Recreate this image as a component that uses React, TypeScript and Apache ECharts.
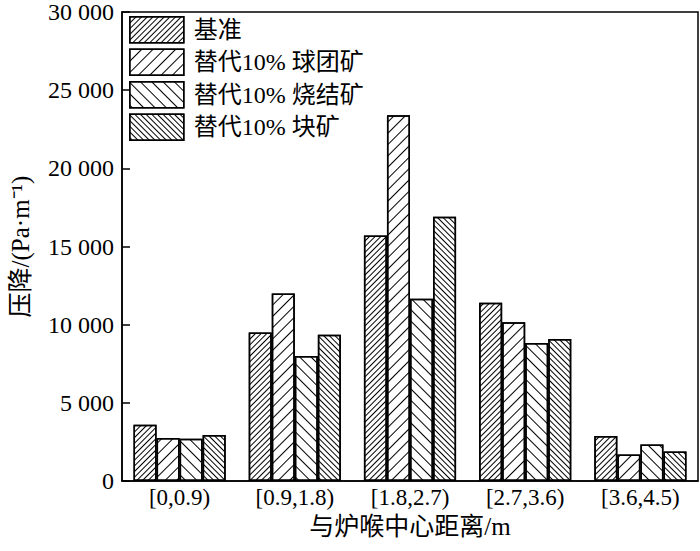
import React, { useEffect, useRef } from "react";
import * as echarts from "echarts";

const categories = ["[0,0.9)", "[0.9,1.8)", "[1.8,2.7)", "[2.7,3.6)", "[3.6,4.5)"];
const seriesNames = ["基准", "替代10% 球团矿", "替代10% 烧结矿", "替代10% 块矿"];
const baseline = [3600, 9500, 15700, 11400, 2880];
const pellet = [2750, 12000, 23400, 10150, 1700];
const sinter = [2700, 8000, 11650, 8830, 2340];
const lump = [2950, 9350, 16900, 9080, 1890];
const yTicks = [0, 5000, 10000, 15000, 20000, 25000, 30000];

const FONT = "'Liberation Serif', 'Times New Roman', 'Noto Sans CJK SC', serif";

function fmt(v: number): string {
  if (v < 1000) return String(v);
  return `${Math.floor(v / 1000)} ${String(v % 1000).padStart(3, "0")}`;
}

export default function App() {
  const ref = useRef<HTMLDivElement>(null);
  useEffect(() => {
    if (!ref.current) return;
    const chart = echarts.init(ref.current, null, { renderer: "svg" });
    const decals = [
      { rotation: -Math.PI / 4, gap: 3 },
      { rotation: -Math.PI / 4, gap: 7 },
      { rotation: Math.PI / 4, gap: 7 },
      { rotation: Math.PI / 4, gap: 3 },
    ];
    const data = [baseline, pellet, sinter, lump];
    chart.setOption({
      animation: false,
      backgroundColor: "#fff",
      textStyle: { fontFamily: FONT, color: "#000" },
      grid: {
        left: 114,
        right: 2,
        top: 10,
        bottom: 70,
        show: true,
        borderColor: "#000",
        borderWidth: 1.5,
      },
      legend: {
        orient: "vertical",
        left: 124,
        top: 11,
        icon: "rect",
        itemWidth: 54,
        itemHeight: 26,
        itemGap: 5,
        data: seriesNames,
        itemStyle: { borderColor: "#000", borderWidth: 1.5 },
        textStyle: { fontFamily: FONT, fontSize: 24, color: "#000", padding: [0, 0, 0, 5] },
      },
      xAxis: {
        type: "category",
        data: categories,
        name: "与炉喉中心距离/m",
        nameLocation: "middle",
        nameGap: 27,
        nameTextStyle: { fontFamily: FONT, fontSize: 25, color: "#000" },
        axisLine: { lineStyle: { color: "#000", width: 1.5 } },
        axisTick: { show: false },
        axisLabel: { fontFamily: FONT, fontSize: 23, color: "#000", margin: 5 },
      },
      yAxis: {
        type: "value",
        min: yTicks[0],
        max: yTicks[yTicks.length - 1],
        interval: 5000,
        name: "压降/(Pa·m⁻¹)",
        nameLocation: "middle",
        nameGap: 89,
        nameTextStyle: { fontFamily: FONT, fontSize: 25, color: "#000" },
        axisLine: { show: true, lineStyle: { color: "#000", width: 1.5 } },
        axisTick: { show: true, inside: true, length: 8, lineStyle: { color: "#000", width: 1.5 } },
        splitLine: { show: false },
        axisLabel: {
          fontFamily: FONT,
          fontSize: 24,
          color: "#000",
          margin: 8,
          formatter: (v: number) => fmt(v),
        },
      },
      series: seriesNames.map((name, i) => ({
        name,
        type: "bar",
        data: data[i],
        barGap: "0%",
        barCategoryGap: "20%",
        itemStyle: {
          color: "#fff",
          borderColor: "#000",
          borderWidth: 1.5,
          decal: {
            symbol: "rect",
            symbolSize: 1,
            color: "#000",
            dashArrayX: [1, 0],
            dashArrayY: [1, decals[i].gap],
            rotation: decals[i].rotation,
          },
        },
      })),
    });
    return () => chart.dispose();
  }, []);
  return (
    <div
      ref={ref}
      style={{ position: "fixed", left: 0, top: 0, width: 700, height: 551 }}
    />
  );
}
